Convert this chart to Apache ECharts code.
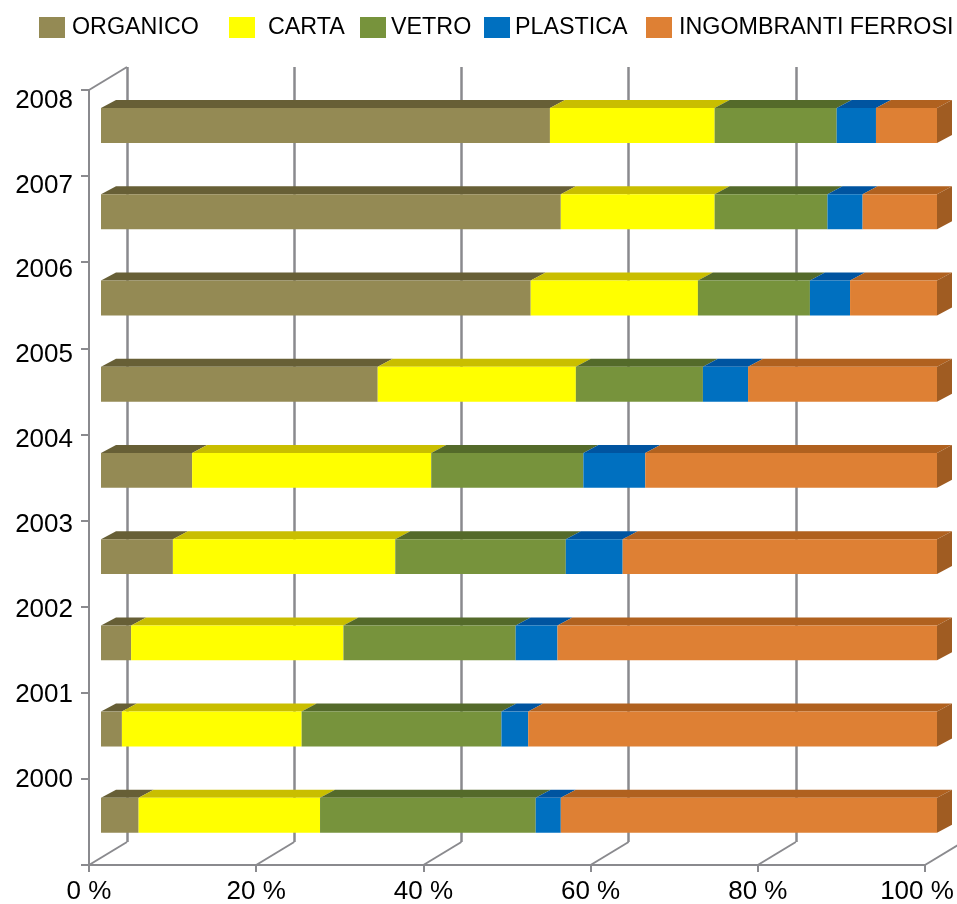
<!DOCTYPE html>
<html>
<head>
<meta charset="utf-8">
<style>html,body{margin:0;padding:0;background:#fff}#chart{width:957px;height:904px}</style>
<script src="https://cdn.jsdelivr.net/npm/echarts@6/dist/echarts.min.js"></script>
</head>
<body>
<div id="chart"></div>
<script>
// Waste collection composition by year, percent of the total
const years = ['2000','2001','2002','2003','2004','2005','2006','2007','2008'];
const organico     = [4.5, 2.5, 3.6, 8.6, 10.9, 33.1, 51.4, 55.0, 53.7];
const carta        = [21.7, 21.5, 25.4, 26.6, 28.6, 23.7, 20.0, 18.4, 19.7];
const vetro        = [25.8, 23.9, 20.6, 20.4, 18.2, 15.2, 13.4, 13.5, 14.6];
const plastica     = [3.0, 3.2, 5.0, 6.8, 7.4, 5.4, 4.8, 4.2, 4.7];
const ingombranti  = [45.0, 48.9, 45.4, 37.6, 34.9, 22.6, 10.4, 8.9, 7.3];
const percentTicks = [0, 20, 40, 60, 80, 100];

const segments = [
  { name: 'ORGANICO',            values: organico,    front: '#948A54', top: '#675F36' },
  { name: 'CARTA',               values: carta,       front: '#FFFF00', top: '#C9BE00' },
  { name: 'VETRO',               values: vetro,       front: '#77933C', top: '#546A2A' },
  { name: 'PLASTICA',            values: plastica,    front: '#0070C0', top: '#0054A0' },
  { name: 'INGOMBRANTI FERROSI', values: ingombranti, front: '#DE8034', top: '#B0611F', side: '#A05C22' }
];

const FONT = '"Liberation Sans", Arial, sans-serif';
const LINE = '#8A8A8E';
const BAR_DX = 15, BAR_DY = 8;      // extrusion of each bar
const WALL_DX = 38, WALL_DY = 23;   // distance between the front plane and the back wall

// A stacked bar segment: front face, top face and, for the last one, the end cap
function renderSegment(seg) {
  return function (params, api) {
    const a = api.coord([api.value(0), api.value(2)]);
    const b = api.coord([api.value(1), api.value(2)]);
    const h = api.size([0, 1])[1] * 0.405;
    const t = a[1] - h / 2, bottom = t + h;
    const kids = [
      { type: 'polygon', shape: { points: [[a[0], t], [b[0], t], [b[0] + BAR_DX, t - BAR_DY], [a[0] + BAR_DX, t - BAR_DY]] },
        style: { fill: seg.top } },
      { type: 'rect', shape: { x: a[0], y: t, width: b[0] - a[0], height: h }, style: { fill: seg.front } }
    ];
    if (seg.side) {
      kids.push({ type: 'polygon',
        shape: { points: [[b[0], t], [b[0] + BAR_DX, t - BAR_DY], [b[0] + BAR_DX, bottom - BAR_DY], [b[0], bottom]] },
        style: { fill: seg.side } });
    }
    return { type: 'group', children: kids };
  };
}

const barSeries = segments.map(function (seg) {
  const rows = seg.values.map(function (v, i) {
    let start = 0;
    for (let k = 0; segments[k] !== seg; k++) start += segments[k].values[i];
    return [start, start + v, i];
  });
  return {
    type: 'custom', name: seg.name, xAxisIndex: 1, yAxisIndex: 1, clip: false, z: 5,
    itemStyle: { color: seg.front },
    encode: { x: [0, 1], y: 2 },
    renderItem: renderSegment(seg),
    data: rows
  };
});

// Slanted floor lines joining the front axis ticks to the back wall
const floorSeries = {
  type: 'custom', xAxisIndex: 0, yAxisIndex: 0, clip: false, silent: true, z: 1,
  encode: { x: 0 },
  renderItem: function (params, api) {
    const x = api.coord([api.value(0), 0])[0];
    const floor = params.coordSys.y + params.coordSys.height;
    return { type: 'line', shape: { x1: x, y1: floor, x2: x + WALL_DX, y2: floor - WALL_DY },
             style: { stroke: LINE, lineWidth: 2 } };
  },
  data: percentTicks.map(function (v) { return [v]; })
};

// Slanted line at the top of the vertical axis
const cornerSeries = {
  type: 'custom', xAxisIndex: 0, yAxisIndex: 0, clip: false, silent: true, z: 1,
  encode: { x: 0 },
  renderItem: function (params, api) {
    const x = api.coord([api.value(0), 0])[0];
    const top = params.coordSys.y;
    return { type: 'line', shape: { x1: x, y1: top, x2: x + WALL_DX, y2: top - WALL_DY },
             style: { stroke: LINE, lineWidth: 2 } };
  },
  data: [[percentTicks[0]]]
};

function legendFor(name, left, gap) {
  return {
    left: left, top: 16, padding: 0, itemWidth: 26, itemHeight: 21, icon: 'rect',
    data: [name], selectedMode: false,
    textStyle: { fontFamily: FONT, fontSize: 23.3, color: '#000', padding: [3, 0, 0, gap] }
  };
}

const hiddenValue = { type: 'value', min: 0, max: 100, show: false };
const hiddenYears = { type: 'category', data: years, show: false };

const option = {
  animation: false,
  backgroundColor: '#fff',
  legend: [
    legendFor('ORGANICO', 39, 2),
    legendFor('CARTA', 229, 8),
    legendFor('VETRO', 360, 0),
    legendFor('PLASTICA', 484, 0),
    legendFor('INGOMBRANTI FERROSI', 646, 2)
  ],
  grid: [
    { left: 89, top: 90, width: 836, height: 775, outerBoundsMode: 'none' },    // front plane with the axes
    { left: 101, top: 82.4, width: 836, height: 776, outerBoundsMode: 'none' }, // bars
    { left: 127, top: 67, width: 836, height: 775, outerBoundsMode: 'none' },   // back wall
    { left: 89, top: 58, width: 836, height: 764, outerBoundsMode: 'none' }     // year labels
  ],
  xAxis: [
    { type: 'value', gridIndex: 0, min: 0, max: 100, interval: 20,
      splitLine: { show: false },
      axisLine: { show: true, lineStyle: { color: LINE, width: 2 } },
      axisTick: { show: true, length: 7, lineStyle: { color: LINE, width: 2 } },
      axisLabel: { fontFamily: FONT, fontSize: 26, color: '#000', margin: 14, hideOverlap: false,
        // the last label is pulled inwards so it stays on the canvas
        formatter: function (v) { return v === 100 ? '{last|' + v + ' %}' : v + ' %'; },
        rich: { last: { fontFamily: FONT, fontSize: 26, color: '#000', padding: [0, 16, 0, 0] } } } },
    Object.assign({ gridIndex: 1 }, hiddenValue),
    { type: 'value', gridIndex: 2, min: 0, max: 100, interval: 20,
      axisLine: { show: false }, axisTick: { show: false }, axisLabel: { show: false },
      splitLine: { show: true, lineStyle: { color: LINE, width: 2.5 } } },
    Object.assign({ gridIndex: 3 }, hiddenValue)
  ],
  yAxis: [
    { type: 'category', gridIndex: 0, data: years,
      axisLine: { show: true, onZero: false, lineStyle: { color: LINE, width: 2 } },
      axisTick: { show: true, length: 8, lineStyle: { color: LINE, width: 2 } },
      axisLabel: { show: false } },
    Object.assign({ gridIndex: 1 }, hiddenYears),
    Object.assign({ gridIndex: 2 }, hiddenYears),
    { type: 'category', gridIndex: 3, data: years,
      axisLine: { show: false }, axisTick: { show: false },
      axisLabel: { fontFamily: FONT, fontSize: 26, color: '#000', margin: 16, interval: 0 } }
  ],
  series: [floorSeries, cornerSeries].concat(barSeries)
};

echarts.init(document.getElementById('chart'), null, { renderer: 'canvas' }).setOption(option);
</script>
</body>
</html>
